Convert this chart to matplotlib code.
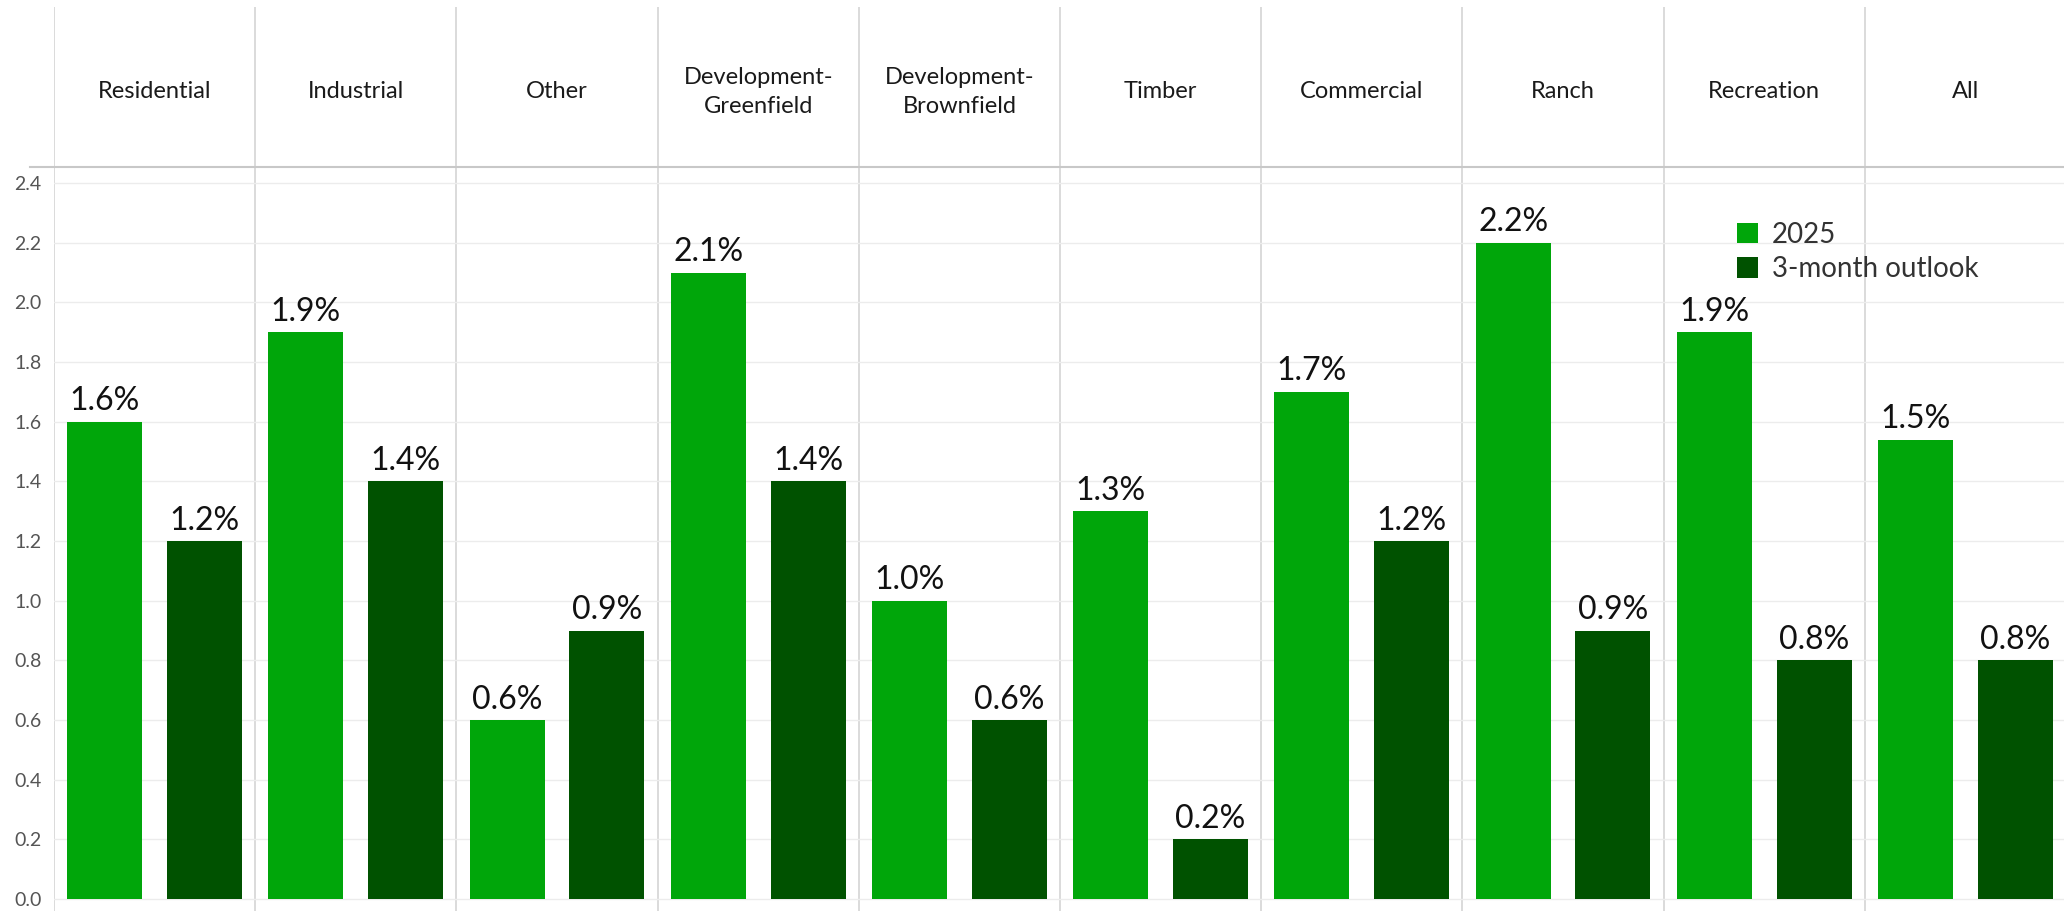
import numpy as np
import matplotlib.pyplot as plt
from matplotlib.lines import Line2D

# data
categories = ["Residential", "Industrial", "Other", "Development-\nGreenfield",
              "Development-\nBrownfield", "Timber", "Commercial", "Ranch",
              "Recreation", "All"]
vals_2025 = [1.6, 1.9, 0.6, 2.1, 1.0, 1.3, 1.7, 2.2, 1.9, 1.54]
vals_outlook = [1.2, 1.4, 0.9, 1.4, 0.6, 0.2, 1.2, 0.9, 0.8, 0.80]
series_names = ["2025", "3-month outlook"]
ytick_vals = [0.0, 0.2, 0.4, 0.6, 0.8, 1.0, 1.2, 1.4, 1.6, 1.8, 2.0, 2.2, 2.4]

col_2025 = "#00a60a"
col_outlook = "#005200"

plt.rcParams['font.family'] = ['Lato', 'DejaVu Sans']

W, H = 2064, 911
fig = plt.figure(figsize=(W / 100, H / 100), dpi=100)
ax = fig.add_axes([54 / W, 0, 1 - 54 / W, 1 - 167 / H])
hdr = fig.add_axes([54 / W, 1 - 167 / H, 1 - 54 / W, (167 - 7) / H], sharex=ax)

x = np.arange(len(categories))
off = 0.248
bw = 0.373
b1 = ax.bar(x - off, vals_2025, bw, color=col_2025, label=series_names[0], zorder=3)
b2 = ax.bar(x + off, vals_outlook, bw, color=col_outlook, label=series_names[1], zorder=3)

ax.bar_label(b1, labels=[f"{v:.1f}%" for v in vals_2025], padding=4,
             fontsize=23, color="#111111")
ax.bar_label(b2, labels=[f"{v:.1f}%" for v in vals_outlook], padding=4,
             fontsize=23, color="#111111")

ax.set_xlim(-0.5, 9.49)
ax.set_ylim(-0.04, 2.454)
ax.set_yticks(ytick_vals)
ax.set_yticklabels([f"{v:.1f}" for v in ytick_vals])
ax.tick_params(axis="y", length=0, labelsize=14, labelcolor="#555555", pad=9)
ax.tick_params(axis="x", length=0, labelbottom=False)
ax.grid(axis="y", color="#ececec", lw=1, zorder=0)
for s in ax.spines.values():
    s.set_visible(False)

for i in range(len(categories)):
    ax.axvline(i - 0.5, color="#d4d4d4", lw=1.2, zorder=1)
    hdr.axvline(i - 0.5, color="#d4d4d4", lw=1.2)
    hdr.text(i, 0.47, categories[i], ha="center", va="center", fontsize=17,
             color="#1a1a1a", linespacing=1.45)

hdr.set_ylim(0, 1)
hdr.axis("off")

# line under the header
fig.add_artist(Line2D([30 / W, 1], [1 - 167 / H, 1 - 167 / H],
                      color="#c8c8c8", lw=1.5))

fig.legend(handles=[b1, b2], labels=series_names, loc="upper left",
           bbox_to_anchor=(1737 / W, 1 - 222 / H), frameon=False,
           fontsize=20, handlelength=0.75, handleheight=0.75,
           handletextpad=0.5, labelspacing=0.3, borderpad=0,
           borderaxespad=0, labelcolor="#333333")

fig.savefig("out.png", dpi=100)
